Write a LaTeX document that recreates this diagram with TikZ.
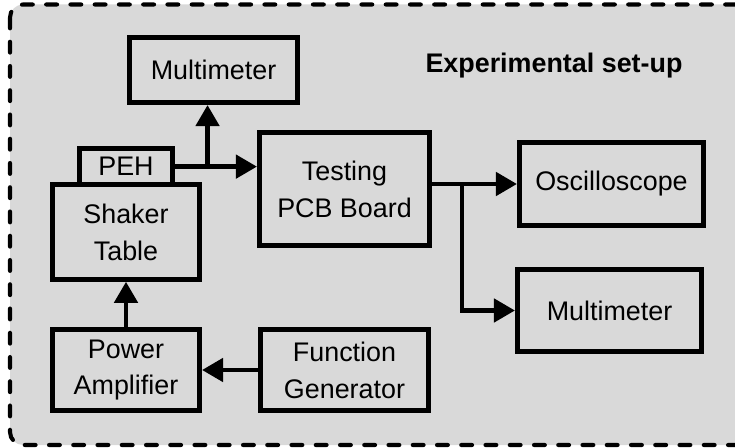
\documentclass[tikz,border=0pt]{standalone}
\usepackage{fontspec}
\setmainfont{Liberation Sans}
\usetikzlibrary{arrows.meta,positioning,calc}
\definecolor{bggray}{HTML}{D9D9D9}

\begin{document}
\begin{tikzpicture}[
    box/.style = {draw, rectangle, fill=bggray, line width=2.6pt, align=center, font=\fontsize{15.3}{21}\selectfont},
    sig/.style = {line width=2.6pt, -{Triangle[length=0.42cm,width=0.46cm]}}
  ]

      \useasboundingbox (0,0) rectangle (14.7,-8.96);

      % dashed frame round the whole set-up
      \draw[fill=bggray, line width=2.3pt, line cap=round, dash pattern=on 6.2pt off 7.6pt, rounded corners=0.26cm] (0.2,-0.09) rectangle (15.2,-8.9);

      \node[box, minimum width = 2.95 cm, minimum height = 1.9 cm, anchor = center] at (2.52,-4.64) (shaker) {Shaker\\Table};
      \node[box, minimum width = 1.85 cm, minimum height = 0.72 cm, inner sep = 1pt, above = -0.094 cm of shaker] (peh) {PEH};

      \coordinate[below = 2.76 cm of shaker.center] (ampc);
      \coordinate[right = 4.37 cm of ampc] (genc);
      \node[box, minimum width = 2.95 cm, minimum height = 1.63 cm, anchor = center] at (ampc) (amp) {Power\\Amplifier};
      \node[box, minimum width = 3.37 cm, minimum height = 1.63 cm, anchor = center] at (genc) (gen) {Function\\Generator};

      \coordinate[above right = 0.86 cm and 4.37 cm of shaker.center] (testc);
      \coordinate[above right = 3.24 cm and 1.75 cm of shaker.center] (m1c);
      \node[box, minimum width = 3.41 cm, minimum height = 2.27 cm, anchor = center] at (testc) (testing) {Testing\\PCB Board};
      \node[box, minimum width = 3.37 cm, minimum height = 1.31 cm, anchor = center] at (m1c) (mult1) {Multimeter};

      \coordinate[above right = 0.1 cm and 5.34 cm of testing.center] (oscc);
      \coordinate[below right = 2.43 cm and 5.30 cm of testing.center] (m2c);
      \node[box, minimum width = 3.69 cm, minimum height = 1.67 cm, anchor = center] at (oscc) (osc) {Oscilloscope};
      \node[box, minimum width = 3.69 cm, minimum height = 1.65 cm, anchor = center] at (m2c) (mult2) {Multimeter};

      \node[font=\bfseries\fontsize{15.3}{21}\selectfont] at (11.08,-1.32) (title) {Experimental set-up};

      % drive chain
      \draw[sig] (gen) -- (amp);
      \draw[sig] (amp) -- (shaker);

      % harvester output, split to the meter
      \coordinate[right = 0.66 cm of peh.east] (split1);
      \draw[sig] (peh.east) -- (peh.east -| testing.west);
      \draw[sig] (split1) -- (split1 |- mult1.south);

      % board output to scope and meter
      \coordinate (tout) at (testing.east |- osc.west);
      \coordinate[right = 0.6 cm of tout] (split2);
      \draw[sig] (tout) -- (osc.west);
      \draw[sig] (split2) |- (mult2.west);

    \end{tikzpicture}
\end{document}
